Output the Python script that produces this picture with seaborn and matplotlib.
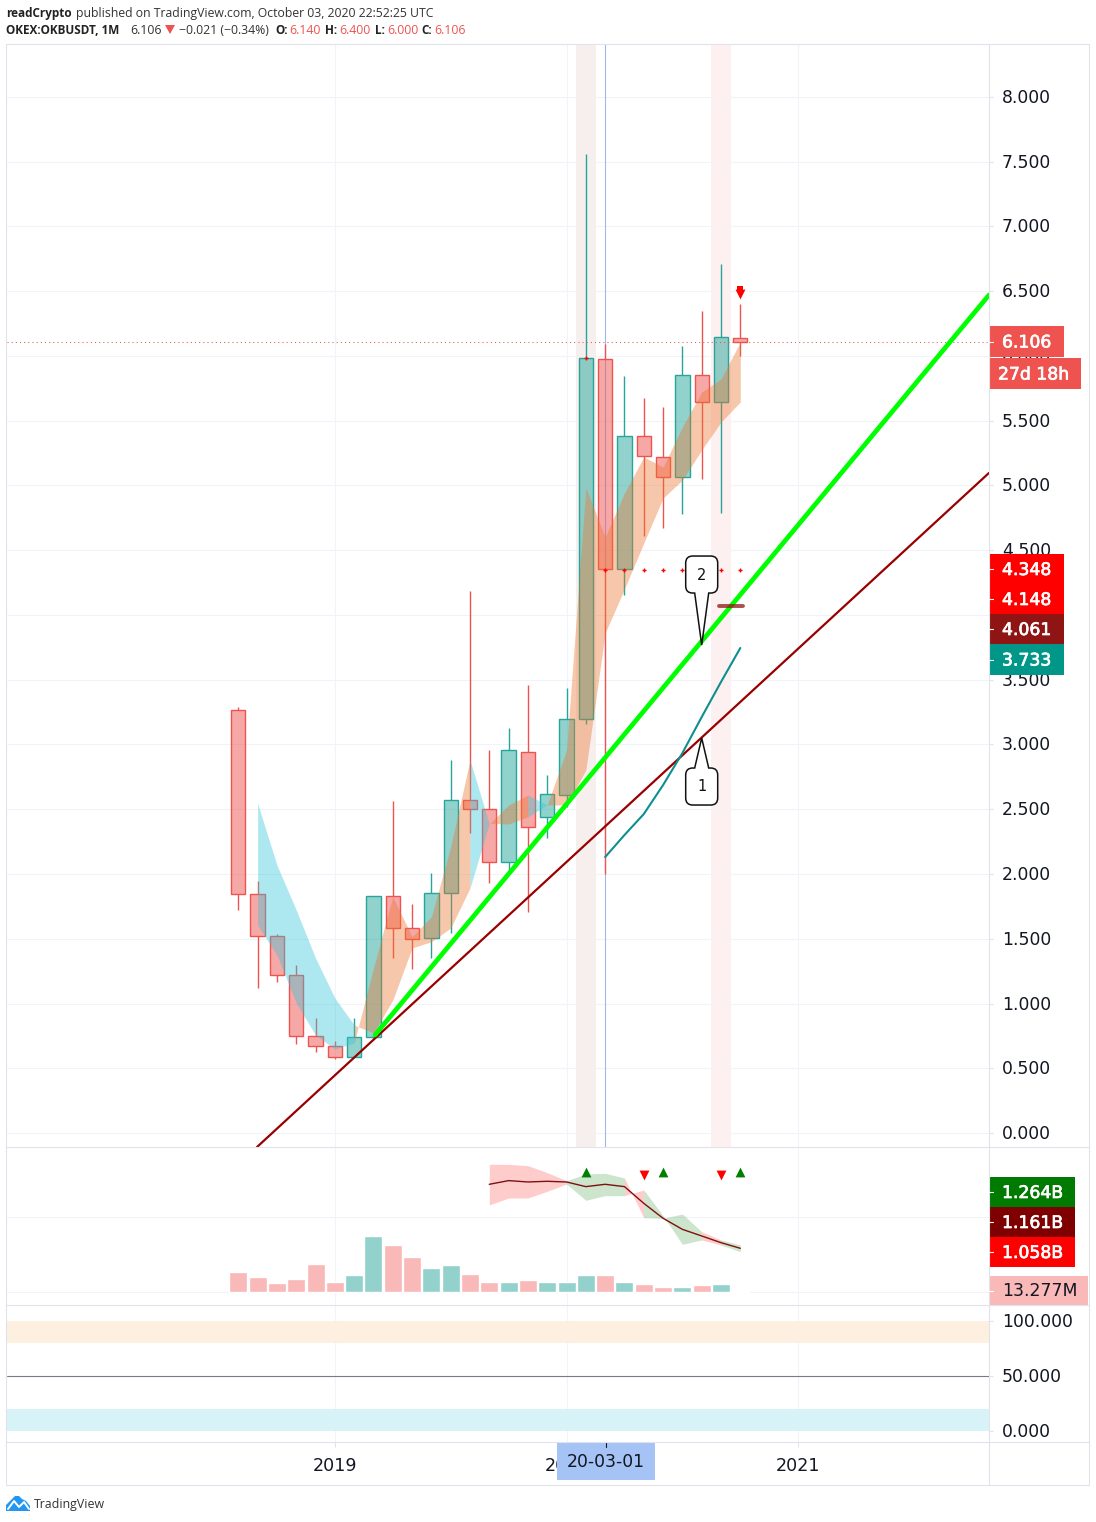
import numpy as np
import pandas as pd
import matplotlib
matplotlib.use("Agg")
import matplotlib.pyplot as plt
import matplotlib.patheffects as pe
from matplotlib.patches import PathPatch, Rectangle, Polygon
from matplotlib.path import Path
from matplotlib.transforms import Affine2D, ScaledTranslation
import seaborn as sns

# ── DATA ───────────────────────────────────────────────────
# monthly candles, Aug 2018 (0) to Oct 2020 (26)
months = list(range(27))
opens = [3.264, 1.843, 1.524, 1.222, 0.751, 0.674, 0.589, 0.739, 1.828, 1.581, 1.503, 1.851, 2.569, 2.500,
         2.095, 2.940, 2.438, 2.613, 3.195, 5.974, 4.353, 5.380, 5.218, 5.063, 5.851, 5.642, 6.140]
closes = [1.843, 1.524, 1.222, 0.751, 0.674, 0.589, 0.739, 1.828, 1.581, 1.496, 1.851, 2.569, 2.500, 2.095,
          2.955, 2.361, 2.615, 3.195, 5.982, 4.353, 5.380, 5.225, 5.063, 5.851, 5.642, 6.144, 6.106]
highs = [3.290, 1.946, 1.537, 1.297, 0.888, 0.710, 0.888, 1.830, 2.564, 1.768, 2.008, 2.880, 4.185, 2.958,
         3.127, 3.459, 2.764, 3.436, 7.560, 6.093, 5.846, 5.676, 5.606, 6.077, 6.347, 6.710, 6.400]
lows = [1.722, 1.122, 1.166, 0.687, 0.625, 0.571, 0.589, 0.735, 1.354, 1.269, 1.354, 1.547, 2.319, 1.933,
        2.015, 1.707, 2.280, 2.520, 3.161, 2.000, 4.157, 4.610, 4.674, 4.782, 5.053, 4.790, 6.000]
volumes = [266, 200, 120, 173, 372, 133, 226, 745, 625, 466, 319, 359, 239, 133,
           133, 160, 133, 133, 226, 226, 133, 106, 66, 66, 93, 106, 13.277]
vol_up = [0, 0, 0, 0, 0, 0, 1, 1, 0, 0, 1, 1, 0, 0, 1, 0, 1, 1, 1, 0, 1, 0, 0, 1, 0, 1, 0]

# moving average cloud, months 1 to 26
cloud_months = list(range(1, 27))
cloud_fast = [1.606, 1.375, 1.004, 0.757, 0.649, 0.695, 1.274, 1.825, 1.516, 1.670, 2.211, 2.880, 2.386,
              2.533, 2.610, 2.533, 2.958, 4.981, 4.602, 4.942, 5.220, 5.143, 5.452, 5.722, 5.822, 6.108]
cloud_slow = [2.546, 2.069, 1.722, 1.351, 1.042, 0.834, 0.772, 1.027, 1.429, 1.477, 1.583, 1.892, 2.392,
              2.386, 2.442, 2.533, 2.533, 2.803, 3.861, 4.201, 4.556, 4.903, 5.042, 5.274, 5.490, 5.645]
cloud_spans = [(1, 6, 'cyan'), (6, 12, 'orange'), (12, 13, 'cyan'), (13, 15, 'orange'),
               (15, 16, 'cyan'), (16, 26, 'orange')]

# drawn lines
lime_x, lime_y = [7.08, 38.88], [0.757, 6.471]
dark_x, dark_y = [0.97, 38.88], [-0.108, 5.097]
teal_x = [19, 20, 21, 22, 23, 24, 25, 26]
teal_y = [2.131, 2.301, 2.463, 2.687, 2.934, 3.212, 3.483, 3.745]
dots_x = [18, 19, 20, 21, 22, 23, 24, 25, 26]
dots_y = [5.982, 4.348, 4.348, 4.348, 4.348, 4.348, 4.348, 4.348, 4.348]
dash_x, dash_y = [24.9, 26.14], [4.067, 4.067]
arrow_x, arrow_y = [26], [6.475]
shaft_y = [6.52]
last_close = 6.106
cross_month = 19
shade_months = [18, 25]
price_ticks = [0, 0.5, 1, 1.5, 2, 2.5, 3, 3.5, 4, 4.5, 5, 5.5, 6, 6.5, 7, 7.5, 8]

# volume pane overlay, months 13 to 26
band_months = list(range(13, 27))
band_mid = [1432, 1481, 1463, 1472, 1463, 1401, 1432, 1401, 1179, 980, 833, 745, 656, 581]
band_a = [1698, 1698, 1680, 1587, 1481, 1569, 1578, 1516, 989, 980, 1037, 802, 692, 625]
band_b = [1157, 1250, 1250, 1339, 1436, 1219, 1281, 1281, 1357, 1015, 634, 692, 625, 536]
band_spans = [(13, 17, 'pink'), (17, 20, 'green'), (20, 21, 'pink'), (21, 24, 'green'),
              (24, 25, 'pink'), (25, 26, 'green')]
up_x, up_y = [18, 22, 26], [1590, 1590, 1590]
down_x, down_y = [21, 25], [1552, 1552]

year_ticks = [5, 17, 29]
year_labels = ['2019', '2020', '2021']
osc_ticks = [0, 50, 100]

RED, GREEN = '#ef5350', '#26a69a'
GRID, EDGE, INK = '#f0f3fa', '#e0e3eb', '#131722'
W, H = 1096, 1522

sns.set_theme(style='white')
plt.rcParams['font.family'] = ['DejaVu Sans']
fig = plt.figure(figsize=(W / 100, H / 100), dpi=100, facecolor='white')


def pane(top, bottom):
    # axes from pixel rows, all panes share the x range
    a = fig.add_axes([7 / W, 1 - bottom / H, (989 - 7) / W, (bottom - top) / H])
    a.patch.set_alpha(0)
    for s in a.spines.values():
        s.set_visible(False)
    return a


def lift_labels(a):
    # right scale labels sit one pixel higher than matplotlib puts them
    up = ScaledTranslation(0, 1 / 100, fig.dpi_scale_trans)
    for lbl in a.get_yticklabels():
        lbl.set_transform(lbl.get_transform() + up)


ax = pane(44, 1147)
ax_vol = pane(1147, 1305)
ax_osc = pane(1305, 1442)
xlim = (-11.98, 38.88)

# ── MAIN PANE ──────────────────────────────────────────────
for m in shade_months:
    ax.axvspan(m - 0.5, m + 0.5, color='#f6efee' if m == 18 else '#fdf0f0', lw=0, zorder=0.5)
ax.hlines(price_ticks, *xlim, color=GRID, lw=0.8, zorder=0.2)
ax.axvline(cross_month, color='#a3b7e6', lw=0.8, zorder=0.8)

for m, o, c, h, l in zip(months, opens, closes, highs, lows):
    col = GREEN if c >= o else RED
    ax.vlines(m, max(o, c), h, color=col, lw=1, zorder=2)
    ax.vlines(m, l, min(o, c), color=col, lw=1, zorder=2)
    ax.bar(m, abs(c - o), bottom=min(o, c), width=0.74, facecolor=matplotlib.colors.to_rgba(col, 0.5),
           edgecolor=col, lw=1, zorder=2)

cloud = pd.DataFrame({'fast': cloud_fast, 'slow': cloud_slow}, index=cloud_months)
for a, b, kind in cloud_spans:
    seg = cloud.loc[a:b]
    ax.fill_between(seg.index, seg['fast'], seg['slow'], lw=0, alpha=0.4, zorder=3,
                    color='#34c5d9' if kind == 'cyan' else '#ed752f')

ax.axhline(last_close, color=RED, lw=0.75, ls=(0, (1, 3)), zorder=3.5)
sns.lineplot(x=dark_x, y=dark_y, ax=ax, color='#990000', lw=1.6, zorder=4)
sns.lineplot(x=lime_x, y=lime_y, ax=ax, color='#00ff00', lw=3.4, zorder=4.2)
sns.lineplot(x=teal_x, y=teal_y, ax=ax, color='#0f8f8f', lw=1.5, zorder=4.1)
sns.lineplot(x=dash_x, y=dash_y, ax=ax, color='#8f1414', lw=2.8, alpha=0.75, zorder=4.3)
sns.scatterplot(x=dots_x, y=dots_y, ax=ax, color='#ff0000', marker='+', s=8, linewidth=1, zorder=4.4)
sns.scatterplot(x=arrow_x, y=arrow_y, ax=ax, color='#ff0000', marker='v', s=50, linewidth=0, zorder=4.4)
sns.scatterplot(x=arrow_x, y=shaft_y, ax=ax, color='#ff0000', marker='s', s=14, linewidth=0, zorder=4.4)

ax.set_xlim(*xlim)
ax.set_ylim(-0.108, 8.409)
ax.set_xticks([])
ax.yaxis.tick_right()
ax.set_yticks(price_ticks, [f'{p:.3f}' for p in price_ticks])
ax.tick_params(axis='y', right=True, length=3, width=0.8, color=EDGE, pad=6.2, labelsize=12.4, labelcolor=INK)
ax.set_xlabel(''); ax.set_ylabel('')
lift_labels(ax)


def callout(idx, price, side, gap, label):
    # rounded bubble with its tip on the price, side -1 puts the bubble above
    tx, ty = ax.transData.transform((idx, price))
    tf = Affine2D().scale(1, side).translate(tx, ty)
    y0, y1, r = gap, gap + 37, 7
    verts = [(0, 0), (7, y0), (16 - r, y0), (16, y0), (16, y0 + r), (16, y1 - r), (16, y1), (16 - r, y1),
             (-16 + r, y1), (-16, y1), (-16, y1 - r), (-16, y0 + r), (-16, y0), (-16 + r, y0), (-7, y0), (0, 0)]
    codes = [Path.MOVETO, Path.LINETO, Path.LINETO, Path.CURVE3, Path.CURVE3, Path.LINETO, Path.CURVE3, Path.CURVE3,
             Path.LINETO, Path.CURVE3, Path.CURVE3, Path.LINETO, Path.CURVE3, Path.CURVE3, Path.LINETO, Path.CLOSEPOLY]
    ax.add_patch(PathPatch(Path(verts, codes), facecolor='white', edgecolor='#111111', lw=1.1,
                           transform=tf, zorder=6, clip_on=False))
    ax.text(0, gap + 18, label, transform=tf, ha='center', va='center', fontsize=10.5, color='#111111', zorder=7)


# ── VOLUME PANE ────────────────────────────────────────────
ax_vol.hlines([0, 1000], *xlim, color=GRID, lw=0.8, zorder=0.2)
vol_df = pd.DataFrame({'month': months, 'vol': volumes, 'dir': ['up' if u else 'down' for u in vol_up]})
sns.barplot(data=vol_df, x='month', y='vol', hue='dir', palette={'up': '#93d2cc', 'down': '#f9b9b8'},
            native_scale=True, dodge=False, width=0.93, saturation=1, legend=False, ax=ax_vol, zorder=2)
band = pd.DataFrame({'a': band_a, 'b': band_b}, index=band_months)
for a, b, kind in band_spans:
    seg = band.loc[a:b]
    ax_vol.fill_between(seg.index, seg['a'], seg['b'], lw=0, alpha=0.2, zorder=3,
                        color='#ff0000' if kind == 'pink' else '#008000')
sns.lineplot(x=band_months, y=band_mid, ax=ax_vol, color='#7f1010', lw=1, zorder=4)
sns.scatterplot(x=up_x, y=up_y, ax=ax_vol, color='#008000', marker='^', s=50, linewidth=0, zorder=5)
sns.scatterplot(x=down_x, y=down_y, ax=ax_vol, color='#ff0000', marker='v', s=50, linewidth=0, zorder=5)
ax_vol.set_xlim(*xlim)
ax_vol.set_ylim(-173, 1928)
ax_vol.set_xticks([]); ax_vol.set_yticks([])
ax_vol.set_xlabel(''); ax_vol.set_ylabel('')

# ── OSCILLATOR PANE ────────────────────────────────────────
ax_osc.axhspan(80, 100, color='#fdf0e0', lw=0)
ax_osc.axhspan(0, 20, color='#d8f3f8', lw=0)
ax_osc.axhline(50, color='#787b86', lw=0.8)
ax_osc.set_xlim(*xlim)
ax_osc.set_ylim(-10, 114.5)
ax_osc.yaxis.tick_right()
ax_osc.set_yticks(osc_ticks, [f'{p:.3f}' for p in osc_ticks])
ax_osc.tick_params(axis='y', right=True, length=3, width=0.8, color=EDGE, pad=6.2, labelsize=12.4, labelcolor=INK)
ax_osc.set_xticks(year_ticks, year_labels)
ax_osc.tick_params(axis='x', bottom=True, length=3.6, width=0.8, color=EDGE, pad=7.2, labelsize=12.6, labelcolor=INK)
lift_labels(ax_osc)

for a in (ax, ax_vol, ax_osc):
    for m in year_ticks:
        a.axvline(m, color=GRID, lw=0.8, zorder=0.2)

callout(24, 3.768, 1, 52, '2')
callout(24, 3.05, -1, 30, '1')

# ── FRAME, TAGS, HEADER ────────────────────────────────────
top = fig.add_axes([0, 0, 1, 1], zorder=10)
top.set_xlim(0, W)
top.set_ylim(H, 0)
top.axis('off')
top.patch.set_alpha(0)

top.add_patch(Rectangle((6, 44), 1083, 1441, fill=False, ec=EDGE, lw=0.8))
top.plot([989, 989], [44, 1485], color=EDGE, lw=0.8)
for y in (1147, 1305, 1442):
    top.plot([6, 1089], [y, y], color=EDGE, lw=0.8)

tags = [('6.106', 326, 357, 1064, RED, 'white'), ('27d 18h', 358, 389, 1081, RED, 'white'),
        ('4.348', 554, 584, 1064, '#ff0000', 'white'), ('4.148', 584, 614, 1064, '#ff0000', 'white'),
        ('4.061', 614, 644, 1064, '#8f1414', 'white'), ('3.733', 644, 675, 1064, '#009688', 'white'),
        ('1.264B', 1177, 1207, 1075, '#007a00', 'white'), ('1.161B', 1207, 1237, 1075, '#7f0000', 'white'),
        ('1.058B', 1237, 1267, 1075, '#ff0000', 'white'), ('13.277M', 1276, 1305, 1088, '#f8b9b8', INK)]
for txt, y0, y1, x1, bg, fg in tags:
    top.add_patch(Rectangle((989, y0), x1 - 989, y1 - y0, color=bg, lw=0))
    t = top.text(1002 if txt != '27d 18h' else 998, (y0 + y1) / 2 - 1, txt, color=fg, fontsize=12.4,
                 ha='left', va='center_baseline')
    if fg == 'white':
        t.set_path_effects([pe.withStroke(linewidth=0.5, foreground='white')])
    if txt != '27d 18h':
        top.plot([989, 993], [(y0 + y1) / 2] * 2, color='white', lw=0.8)

top.add_patch(Rectangle((557, 1443), 98, 37, color='#a6c3f5', lw=0))
top.plot([606, 606], [1443, 1447], color=INK, lw=0.8)
top.text(606, 1460, '20-03-01', color=INK, fontsize=12.4, ha='center', va='center_baseline')

head = ['Open Sans', 'DejaVu Sans']
t_kw = dict(fontsize=8.8, family=head, va='center_baseline')
b_kw = dict(fontsize=8.5, family=head, va='center_baseline', fontweight='bold', color='#222222')
top.text(6, 12, 'readCrypto', **b_kw)
top.text(76, 12, 'published on TradingView.com, October 03, 2020 22:52:25 UTC', color='#333333', **t_kw)
top.text(6, 29, 'OKEX:OKBUSDT, 1M', **b_kw)
top.text(130, 29, '6.106', color='#333333', **t_kw)
top.add_patch(Polygon([(165, 25), (175, 25), (170, 34)], color=RED, lw=0))
top.text(179, 29, '\u22120.021 (\u22120.34%)', color='#333333', **t_kw)
for key, kx, val, vx in [('O:', 275, '6.140', 289), ('H:', 325, '6.400', 339),
                         ('L:', 375, '6.000', 387), ('C:', 421, '6.106', 434)]:
    top.text(kx, 29, key, **b_kw)
    top.text(vx, 29, val, color=RED, **t_kw)

# logo
top.add_patch(Polygon([(6, 1511), (6, 1505), (11, 1500), (15, 1496), (19, 1496), (22, 1499), (26, 1501),
                       (30, 1506), (30, 1511)], color='#2196f3', lw=0))
top.plot([8, 14, 19, 24, 29], [1509, 1501, 1507, 1502, 1509], color='white', lw=1.4)
top.text(34, 1503, 'TradingView', color='#333333', fontsize=8.9, family=head, va='center_baseline')

fig.savefig('out.png', dpi=100, facecolor='white')
